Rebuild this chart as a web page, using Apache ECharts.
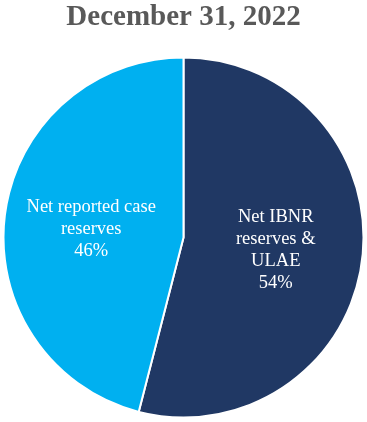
<!DOCTYPE html>
<html><head><meta charset="utf-8">
<script src="https://cdn.jsdelivr.net/npm/echarts@6/dist/echarts.min.js"></script>
<style>html,body{margin:0;padding:0;background:#fff}#c{width:367px;height:422px}</style>
</head><body><div id="c"></div>
<script>
const titleText = "December 31, 2022";
const categories = ["Net IBNR\nreserves &\nULAE", "Net reported case\nreserves"];
const values = [54, 46];
const colors = ["#203864", "#00B0F0"];

const chart = echarts.init(document.getElementById('c'), null, {renderer: 'canvas'});
chart.setOption({
  animation: false,
  title: {
    text: titleText, left: 'center', top: -2,
    textStyle: {fontFamily: 'Liberation Serif', fontWeight: 'bold', fontSize: 29, color: '#595959'}
  },
  series: [{
    type: 'pie',
    center: [183.5, 237.5],
    radius: [0, 180],
    startAngle: 90,
    clockwise: true,
    data: categories.map((c, i) => ({
      name: c, value: values[i], itemStyle: {color: colors[i]},
      label: i === 1 ? {offset: [0, 3]} : {offset: [0, 1]}
    })),
    itemStyle: {borderColor: '#fff', borderWidth: 2},
    label: {
      position: 'inside',
      formatter: p => p.name + '\n' + p.value + '%',
      color: '#fff', fontFamily: 'Liberation Serif', fontSize: 18.5, lineHeight: 22, align: 'center'
    },
    labelLine: {show: false},
    emphasis: {disabled: true}
  }]
});
</script></body></html>
